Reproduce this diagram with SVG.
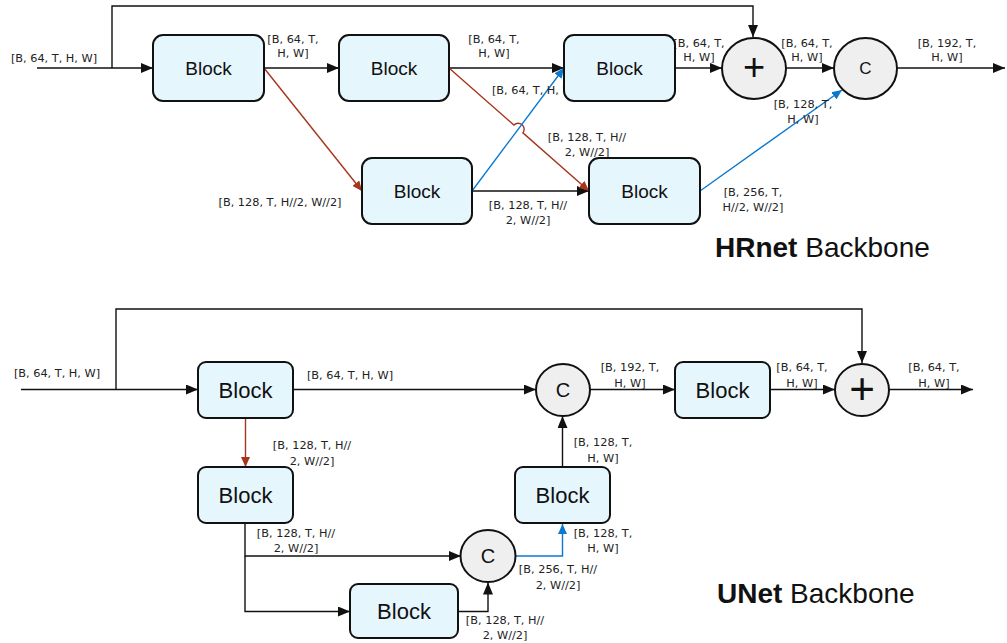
<svg xmlns="http://www.w3.org/2000/svg" width="1007" height="643" viewBox="0 0 1007 643">
<defs>
<style>
.bg{fill:#ffffff}
.blk{fill:#e6f6fd;stroke:#111;stroke-width:2}
.cir{fill:#efefef;stroke:#111;stroke-width:2}
.ln{fill:none;stroke:#111;stroke-width:1.4}
.red{fill:none;stroke:#a8341a;stroke-width:1.4}
.blue{fill:none;stroke:#0a78cf;stroke-width:1.4}
.lbl{font-family:"DejaVu Sans",sans-serif;font-size:11.3px;fill:#222;text-anchor:middle}
.bt{font-family:"Liberation Sans",Arial,sans-serif;font-size:19px;fill:#111;text-anchor:middle;dominant-baseline:central}
.bt2{font-family:"Liberation Sans",Arial,sans-serif;font-size:22px;fill:#111;text-anchor:middle;dominant-baseline:central}
.ttl{font-family:"Liberation Sans",Arial,sans-serif;font-size:28px;fill:#111}
</style>
<marker id="ak" markerUnits="userSpaceOnUse" markerWidth="12" markerHeight="10" refX="12" refY="5" orient="auto"><path d="M0,0 L12,5 L0,10 Z" fill="#111"/></marker>
<marker id="ar" markerUnits="userSpaceOnUse" markerWidth="10" markerHeight="9" refX="10" refY="4.5" orient="auto"><path d="M0,0 L10,4.5 L0,9 Z" fill="#a8341a"/></marker>
<marker id="ab" markerUnits="userSpaceOnUse" markerWidth="10" markerHeight="9" refX="10" refY="4.5" orient="auto"><path d="M0,0 L10,4.5 L0,9 Z" fill="#0a78cf"/></marker>
</defs>
<rect class="bg" x="0" y="0" width="1007" height="643"/>

<g id="connectors">
<!-- HRnet -->
<path class="ln" d="M37,68 L153,68" marker-end="url(#ak)"/>
<path class="ln" d="M112,68 L112,6 L753,6 L753,37" marker-end="url(#ak)"/>
<path class="ln" d="M264,68 L339,68" marker-end="url(#ak)"/>
<path class="ln" d="M449,68 L564,68" marker-end="url(#ak)"/>
<path class="ln" d="M675,68 L722,68" marker-end="url(#ak)"/>
<path class="ln" d="M786,68 L834,68" marker-end="url(#ak)"/>
<path class="ln" d="M897,68 L1005,68" marker-end="url(#ak)"/>
<path class="ln" d="M472,191 L589,191" marker-end="url(#ak)"/>
<path class="red" d="M264,68 L362,191" marker-end="url(#ar)"/>
<path class="red" d="M449,68 L513.9,125 A6,6 0 0 1 522.9,132.9 L589,191" marker-end="url(#ar)"/>
<path class="blue" d="M472,191 L564,68" marker-end="url(#ab)"/>
<path class="blue" d="M700,191 L842,90" marker-end="url(#ab)"/>
<!-- UNet -->
<path class="ln" d="M21,389.5 L198,389.5" marker-end="url(#ak)"/>
<path class="ln" d="M116,389.5 L116,309 L862,309 L862,363" marker-end="url(#ak)"/>
<path class="ln" d="M293,389.5 L536,389.5" marker-end="url(#ak)"/>
<path class="ln" d="M590,389.5 L675,389.5" marker-end="url(#ak)"/>
<path class="ln" d="M770,389.5 L835,389.5" marker-end="url(#ak)"/>
<path class="ln" d="M889,389.5 L973,389.5" marker-end="url(#ak)"/>
<path class="red" d="M245.5,418 L245.5,467" marker-end="url(#ar)"/>
<path class="ln" d="M245,523 L245,556 L461,556" marker-end="url(#ak)"/>
<path class="ln" d="M245,556 L245,611.5 L350,611.5" marker-end="url(#ak)"/>
<path class="ln" d="M458,611.5 L488,611.5 L488,582.5" marker-end="url(#ak)"/>
<path class="blue" d="M515.5,556 L562.5,556 L562.5,524" marker-end="url(#ab)"/>
<path class="ln" d="M562.5,467 L562.5,416" marker-end="url(#ak)"/>
</g>

<g id="labels">
<text class="lbl" x="54" y="62">[B, 64, T, H, W]</text>
<text class="lbl"><tspan x="293" y="43">[B, 64, T,</tspan><tspan x="293" y="57">H, W]</tspan></text>
<text class="lbl"><tspan x="494" y="43">[B, 64, T,</tspan><tspan x="494" y="57">H, W]</tspan></text>
<text class="lbl" x="535" y="94">[B, 64, T, H, W]</text>
<text class="lbl"><tspan x="587" y="141">[B, 128, T, H//</tspan><tspan x="587" y="156">2, W//2]</tspan></text>
<text class="lbl"><tspan x="699" y="47">[B, 64, T,</tspan><tspan x="699" y="61">H, W]</tspan></text>
<text class="lbl"><tspan x="807" y="47">[B, 64, T,</tspan><tspan x="807" y="61">H, W]</tspan></text>
<text class="lbl"><tspan x="947" y="47">[B, 192, T,</tspan><tspan x="947" y="61">H, W]</tspan></text>
<text class="lbl"><tspan x="803" y="108">[B, 128, T,</tspan><tspan x="803" y="123">H, W]</tspan></text>
<text class="lbl"><tspan x="753" y="196">[B, 256, T,</tspan><tspan x="753" y="211">H//2, W//2]</tspan></text>
<text class="lbl" x="280" y="206">[B, 128, T, H//2, W//2]</text>
<text class="lbl"><tspan x="528" y="209">[B, 128, T, H//</tspan><tspan x="528" y="224">2, W//2]</tspan></text>

<text class="lbl" x="57" y="377">[B, 64, T, H, W]</text>
<text class="lbl" x="350" y="379">[B, 64, T, H, W]</text>
<text class="lbl"><tspan x="630" y="371">[B, 192, T,</tspan><tspan x="630" y="387">H, W]</tspan></text>
<text class="lbl"><tspan x="802" y="371">[B, 64, T,</tspan><tspan x="802" y="387">H, W]</tspan></text>
<text class="lbl"><tspan x="934" y="371">[B, 64, T,</tspan><tspan x="934" y="387">H, W]</tspan></text>
<text class="lbl"><tspan x="312" y="449">[B, 128, T, H//</tspan><tspan x="312" y="465">2, W//2]</tspan></text>
<text class="lbl"><tspan x="296" y="537">[B, 128, T, H//</tspan><tspan x="296" y="552">2, W//2]</tspan></text>
<text class="lbl"><tspan x="603" y="446">[B, 128, T,</tspan><tspan x="603" y="462">H, W]</tspan></text>
<text class="lbl"><tspan x="603" y="537">[B, 128, T,</tspan><tspan x="603" y="552">H, W]</tspan></text>
<text class="lbl"><tspan x="558" y="573">[B, 256, T, H//</tspan><tspan x="558" y="589">2, W//2]</tspan></text>
<text class="lbl"><tspan x="505" y="624">[B, 128, T, H//</tspan><tspan x="505" y="639">2, W//2]</tspan></text>
</g>

<g id="hr-block1"><rect class="blk" x="153" y="35" width="111" height="66" rx="10"/><text class="bt" x="208.5" y="68">Block</text></g>
<g id="hr-block2"><rect class="blk" x="339" y="35" width="110" height="66" rx="10"/><text class="bt" x="394" y="68">Block</text></g>
<g id="hr-block3"><rect class="blk" x="564" y="35" width="111" height="66" rx="10"/><text class="bt" x="619.5" y="68">Block</text></g>
<g id="hr-block4"><rect class="blk" x="362" y="158" width="110" height="66" rx="10"/><text class="bt" x="417" y="191">Block</text></g>
<g id="hr-block5"><rect class="blk" x="589" y="158" width="111" height="66" rx="10"/><text class="bt" x="644.5" y="191">Block</text></g>
<g id="hr-plus"><ellipse class="cir" cx="754" cy="68.5" rx="32" ry="30.5"/><text class="bt" x="754" y="67" style="font-size:38px">+</text></g>
<g id="hr-concat"><ellipse class="cir" cx="865.5" cy="68.5" rx="31.5" ry="30.5"/><text class="bt" x="865.5" y="68" style="font-size:17px">C</text></g>
<g id="hr-title"><text class="ttl" x="715" y="257"><tspan font-weight="bold">HRnet</tspan> Backbone</text></g>

<g id="un-blockA"><rect class="blk" x="198" y="362" width="95" height="56" rx="8"/><text class="bt2" x="245.5" y="390">Block</text></g>
<g id="un-blockC"><rect class="blk" x="198" y="467" width="95" height="56" rx="8"/><text class="bt2" x="245.5" y="495">Block</text></g>
<g id="un-blockD"><rect class="blk" x="350" y="584" width="108" height="54" rx="8"/><text class="bt2" x="404" y="611">Block</text></g>
<g id="un-blockE"><rect class="blk" x="515" y="467" width="95" height="56" rx="8"/><text class="bt2" x="562.5" y="495">Block</text></g>
<g id="un-blockB"><rect class="blk" x="675" y="362" width="95" height="56" rx="8"/><text class="bt2" x="722.5" y="390">Block</text></g>
<g id="un-concat1"><ellipse class="cir" cx="563" cy="390" rx="27" ry="26"/><text class="bt2" x="563" y="390" style="font-size:20px">C</text></g>
<g id="un-concat2"><ellipse class="cir" cx="488" cy="556" rx="27.5" ry="26"/><text class="bt2" x="488" y="556" style="font-size:20px">C</text></g>
<g id="un-plus"><ellipse class="cir" cx="862" cy="390" rx="27" ry="26"/><text class="bt2" x="862" y="388" style="font-size:44px">+</text></g>
<g id="un-title"><text class="ttl" x="717" y="603"><tspan font-weight="bold">UNet</tspan> Backbone</text></g>
</svg>
